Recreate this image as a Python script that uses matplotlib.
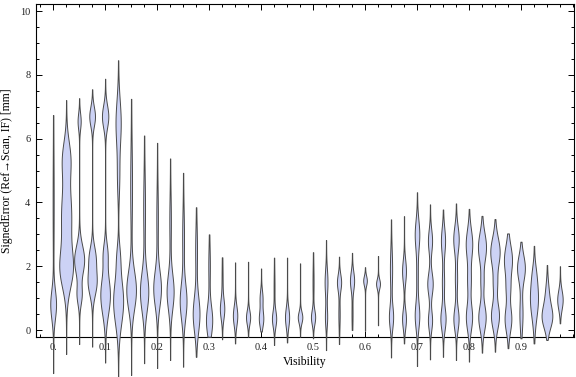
import numpy as np
import matplotlib.pyplot as plt
from matplotlib.ticker import MultipleLocator

# one violin every 0.025 of visibility
visibility = [round(0.025 * k, 3) for k in range(40)]

err_min = [-1.35, -0.75, -0.44, -0.52, -1.02, -1.46, -1.41, -1.04, -1.19, -0.94,
           -1.15, -0.84, -0.21, -0.29, -0.42, -0.21, -0.05, -0.47, -0.39, -0.21,
           -0.26, -0.63, -0.44, 0.0, -0.02, 0.15, -0.86, -0.42, -1.13, -0.92,
           -0.84, -0.94, -0.99, -0.71, -0.68, -0.57, -0.26, -0.42, -0.31, 0.21]
err_max = [6.74, 7.21, 7.27, 7.55, 7.88, 8.46, 7.25, 6.10, 5.87, 5.38,
           4.93, 3.85, 3.00, 2.28, 2.12, 2.14, 1.93, 2.27, 2.27, 2.09,
           2.44, 2.82, 2.30, 2.42, 1.97, 2.32, 3.47, 3.57, 4.32, 3.94,
           3.78, 3.97, 3.80, 3.58, 3.48, 3.03, 2.77, 2.64, 2.04, 2.00]

# density modes per violin: (centre, spread, relative width)
modes = [
    [(0.8, 0.45, 0.42), (4.0, 1.5, 0.06)],
    [(1.9, 0.6, 0.9), (3.6, 0.9, 0.75), (5.4, 0.55, 0.55)],
    [(2.2, 0.45, 0.75), (1.1, 0.3, 0.35), (6.55, 0.25, 0.22)],
    [(2.3, 0.35, 0.45), (1.5, 0.4, 0.65), (6.7, 0.3, 0.42)],
    [(1.1, 0.6, 0.72), (2.4, 0.35, 0.3), (6.7, 0.35, 0.47)],
    [(0.9, 0.7, 0.75), (2.3, 0.4, 0.2), (6.5, 0.7, 0.38), (4.8, 0.6, 0.15)],
    [(1.25, 0.6, 0.72), (4.5, 1.2, 0.12)],
    [(1.2, 0.6, 0.62), (3.8, 1.0, 0.12)],
    [(1.3, 0.55, 0.57), (3.5, 0.9, 0.1)],
    [(1.2, 0.55, 0.52), (3.4, 0.8, 0.1)],
    [(0.9, 0.55, 0.5), (2.9, 0.8, 0.12)],
    [(0.5, 0.55, 0.5), (2.5, 0.7, 0.12)],
    [(0.3, 0.45, 0.46), (2.0, 0.6, 0.1)],
    [(0.65, 0.3, 0.3), (1.5, 0.6, 0.06)],
    [(0.45, 0.3, 0.32)],
    [(0.4, 0.22, 0.3)],
    [(0.35, 0.25, 0.32), (1.0, 0.25, 0.2)],
    [(0.35, 0.25, 0.3), (1.3, 0.5, 0.05)],
    [(0.4, 0.3, 0.3)],
    [(0.4, 0.18, 0.33)],
    [(0.4, 0.22, 0.3), (1.5, 0.5, 0.06)],
    [(1.5, 0.4, 0.2), (0.4, 0.3, 0.15)],
    [(1.5, 0.25, 0.3), (0.5, 0.4, 0.08)],
    [(1.55, 0.28, 0.3), (0.5, 0.4, 0.06)],
    [(1.55, 0.15, 0.26)],
    [(1.45, 0.15, 0.28)],
    [(0.4, 0.35, 0.3), (1.9, 0.6, 0.15)],
    [(1.85, 0.35, 0.28), (0.35, 0.3, 0.28)],
    [(3.0, 0.45, 0.33), (0.45, 0.4, 0.33), (1.7, 0.5, 0.1)],
    [(2.8, 0.35, 0.3), (1.45, 0.35, 0.4), (0.3, 0.3, 0.3)],
    [(2.8, 0.4, 0.3), (0.35, 0.35, 0.38), (1.5, 0.4, 0.15)],
    [(2.85, 0.4, 0.4), (0.35, 0.35, 0.38), (1.6, 0.4, 0.15)],
    [(2.7, 0.45, 0.48), (0.4, 0.4, 0.46), (1.55, 0.4, 0.25)],
    [(2.6, 0.45, 0.6), (0.4, 0.4, 0.55), (1.5, 0.3, 0.2)],
    [(2.45, 0.45, 0.7), (0.45, 0.4, 0.6), (1.45, 0.3, 0.25)],
    [(2.2, 0.45, 0.6), (0.35, 0.4, 0.5), (1.3, 0.3, 0.25)],
    [(1.95, 0.4, 0.58), (0.5, 0.5, 0.22)],
    [(1.0, 0.6, 0.6), (1.8, 0.3, 0.1)],
    [(0.4, 0.35, 0.75), (1.1, 0.4, 0.25)],
    [(0.95, 0.3, 0.4)],
]

xtick_vals = [0.0, 0.1, 0.2, 0.3, 0.4, 0.5, 0.6, 0.7, 0.8, 0.9]
xtick_text = ['0.', '0.1', '0.2', '0.3', '0.4', '0.5', '0.6', '0.7', '0.8', '0.9']
ytick_vals = [0, 2, 4, 6, 8, 10]

serif = ['Liberation Serif', 'DejaVu Serif']
plt.rcParams['font.family'] = serif

fig = plt.figure(figsize=(5.76, 3.77), dpi=100)
ax = fig.add_axes([0.0625, 0.106, 0.934, 0.883])

half = 0.0125  # half of the slot between two violins
for x, lo, hi, md in zip(visibility, err_min, err_max, modes):
    y = np.linspace(lo, hi, 400)
    w = np.full_like(y, 0.02)
    for c, s, a in md:
        w += a * np.exp(-0.5 * ((y - c) / s) ** 2)
    ax.fill_betweenx(y, x - w * half, x + w * half, facecolor='#ccd2f5',
                     edgecolor='#4a4a4a', linewidth=0.7, clip_on=False, zorder=3)

ax.set_xlim(-0.033, 1.002)
ax.set_ylim(-0.22, 10.22)
ax.set_xticks(xtick_vals)
ax.set_xticklabels(xtick_text)
ax.set_yticks(ytick_vals)
ax.xaxis.set_minor_locator(MultipleLocator(0.025))
ax.yaxis.set_minor_locator(MultipleLocator(0.5))
ax.tick_params(which='both', direction='in', top=True, right=True,
               labelsize=7.5, colors='black', labelcolor='#222222', width=0.7)
ax.tick_params(which='major', length=4.5, pad=4)
ax.tick_params(which='minor', length=2.5)
for sp in ax.spines.values():
    sp.set_linewidth(0.8)

ax.set_xlabel('Visibility', fontsize=8.5, labelpad=3)
ax.set_ylabel('SignedError (Ref\u2192Scan, IF) [mm]', fontsize=8.5, labelpad=5)

fig.savefig('out.png', dpi=100)
